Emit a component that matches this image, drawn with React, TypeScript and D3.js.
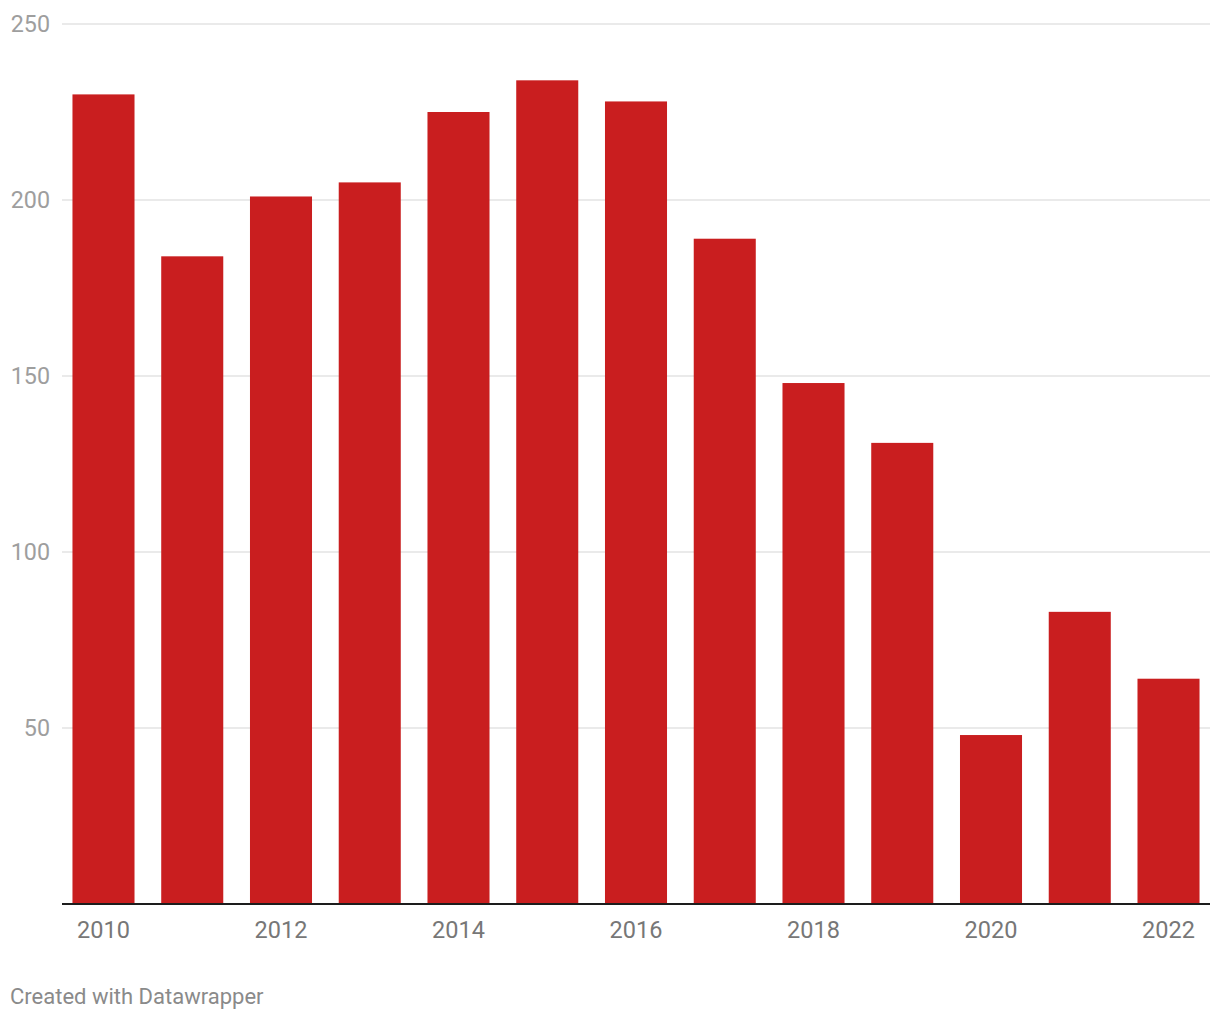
import React from "react";
import * as d3 from "d3";

const years = ["2010","2011","2012","2013","2014","2015","2016","2017","2018","2019","2020","2021","2022"];
const values = [230, 184, 201, 205, 225, 234, 228, 189, 148, 131, 48, 83, 64];
const yTicks = [50, 100, 150, 200, 250];
const xLabels = ["2010","2012","2014","2016","2018","2020","2022"];

export default function App() {
  const W = 1220, H = 1020;
  const left = 62, right = 1210, top = 24, bottom = 904;
  const x = d3.scaleBand<string>().domain(years).range([left, right]).paddingInner(0.301).paddingOuter(0.118);
  const y = d3.scaleLinear().domain([0, 250]).range([bottom, top]);
  const font = "Roboto, 'Noto Sans', sans-serif";
  return (
    <svg width={W} height={H} style={{ position: "absolute", left: 0, top: 0, background: "#fff" }}>
      {yTicks.map(t => (
        <g key={t}>
          <line x1={left} x2={right} y1={y(t)} y2={y(t)} stroke="#e3e3e3" strokeWidth={1.5} />
          <text x={50} y={y(t)} dy="0.35em" textAnchor="end" fontFamily={font} fontSize={23.3} fill="#9e9e9e">{t}</text>
        </g>
      ))}
      {years.map((yr, i) => (
        <rect key={yr} x={x(yr)} y={y(values[i])} width={x.bandwidth()} height={bottom - y(values[i])} fill="#c91e1f" />
      ))}
      <line x1={left} x2={right} y1={bottom} y2={bottom} stroke="#1d1d1d" strokeWidth={2} />
      {xLabels.map(l => (
        <text key={l} x={(x(l) as number) + x.bandwidth() / 2} y={938} textAnchor="middle" fontFamily={font} fontSize={23.5} fill="#777">{l}</text>
      ))}
      <text x={10} y={1004} fontFamily={font} fontSize={22} fill="#8a8a8a">Created with Datawrapper</text>
    </svg>
  );
}
